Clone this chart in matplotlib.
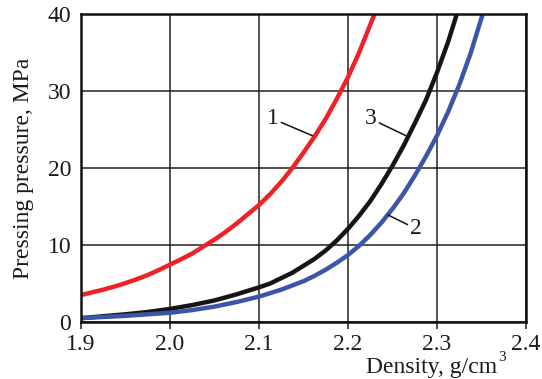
import matplotlib
matplotlib.use("Agg")
import matplotlib.pyplot as plt

plt.rcParams['font.family'] = ['Liberation Serif', 'DejaVu Serif']

# Curve 1: density, g/cm3, and pressing pressure, MPa
density_1 = [1.90, 1.9125, 1.925, 1.9375, 1.95, 1.9625, 1.975, 1.9875, 2.00, 2.0125,
             2.025, 2.0375, 2.05, 2.0625, 2.075, 2.0875, 2.10, 2.1125, 2.125, 2.1375,
             2.15, 2.1625, 2.175, 2.1875, 2.20, 2.2125, 2.225, 2.235]
pressure_1 = [3.5, 3.85, 4.2, 4.6, 5.05, 5.55, 6.1, 6.75, 7.45, 8.15,
              8.9, 9.8, 10.7, 11.7, 12.8, 14.0, 15.2, 16.6, 18.2, 20.0,
              22.0, 24.1, 26.4, 29.0, 31.8, 35.0, 38.6, 41.5]

# Curve 2
density_2 = [1.90, 1.925, 1.95, 1.975, 2.00, 2.025, 2.05, 2.075, 2.10, 2.125,
             2.15, 2.1625, 2.175, 2.1875, 2.20, 2.2125, 2.225, 2.2375, 2.25, 2.2625,
             2.275, 2.2875, 2.30, 2.3125, 2.325, 2.3375, 2.35, 2.36]
pressure_2 = [0.5, 0.65, 0.8, 1.0, 1.2, 1.55, 2.0, 2.6, 3.3, 4.2,
              5.3, 6.0, 6.8, 7.7, 8.7, 9.9, 11.3, 12.9, 14.7, 16.7,
              19.0, 21.5, 24.2, 27.3, 30.8, 34.8, 39.5, 43.0]

# Curve 3
density_3 = [1.90, 1.925, 1.95, 1.975, 2.00, 2.025, 2.05, 2.075, 2.10, 2.1125,
             2.125, 2.1375, 2.15, 2.1625, 2.175, 2.1875, 2.20, 2.2125, 2.225, 2.2375,
             2.25, 2.2625, 2.275, 2.2875, 2.30, 2.3125, 2.325]
pressure_3 = [0.5, 0.75, 1.0, 1.3, 1.7, 2.2, 2.8, 3.6, 4.5, 5.0,
              5.7, 6.4, 7.3, 8.2, 9.3, 10.6, 12.1, 13.8, 15.7, 17.9,
              20.3, 22.9, 25.8, 28.8, 32.4, 36.4, 41.0]

x_ticks = [1.9, 2.0, 2.1, 2.2, 2.3, 2.4]
y_ticks = [0, 10, 20, 30, 40]

fig = plt.figure(figsize=(5.42, 3.79), dpi=100)
ax = fig.add_axes([0.1494, 0.1504, 0.8211, 0.8126])

ax.set_xlim(1.9, 2.4)
ax.set_ylim(0, 40)
ax.set_xticks(x_ticks)
ax.set_yticks(y_ticks)
ax.set_xticklabels([f"{v:.1f}" for v in x_ticks])
ax.set_yticklabels([str(v) for v in y_ticks])
ax.grid(True, color='#222222', linewidth=1.1)
ax.set_axisbelow(True)
for s in ax.spines.values():
    s.set_linewidth(1.8)
    s.set_color('#111111')
ax.tick_params(axis='x', direction='out', length=5, width=1.1, pad=4,
               labelsize=17, colors='#1a1a1a')
ax.tick_params(axis='y', length=0, pad=7, labelsize=17, colors='#1a1a1a')

ax.plot(density_1, pressure_1, color='#ee2226', lw=3.2, solid_capstyle='butt',
        solid_joinstyle='round')
ax.plot(density_3, pressure_3, color='#151515', lw=3.2, solid_capstyle='butt',
        solid_joinstyle='round')
ax.plot(density_2, pressure_2, color='#3b56a6', lw=3.2, solid_capstyle='butt',
        solid_joinstyle='round')

# Curve numbers with leader lines
leader = dict(arrowstyle='-', color='#111111', lw=1.1, shrinkA=0, shrinkB=0)
ax.annotate('1', xy=(2.160, 24.2), xytext=(2.122, 26.4), fontsize=17,
            ha='right', va='center', color='#1a1a1a', arrowprops=leader)
ax.annotate('3', xy=(2.265, 24.2), xytext=(2.232, 26.4), fontsize=17,
            ha='right', va='center', color='#1a1a1a', arrowprops=leader)
ax.annotate('2', xy=(2.245, 13.9), xytext=(2.270, 12.1), fontsize=17,
            ha='left', va='center', color='#1a1a1a', arrowprops=leader)

ax.set_ylabel('Pressing pressure, MPa', fontsize=17, color='#1a1a1a', labelpad=10)
fig.text(432 / 542, 1 - 373 / 379, 'Density, g/cm', fontsize=17, color='#1a1a1a',
         ha='center', va='baseline')
fig.text(498 / 542, 1 - 361 / 379, '3', fontsize=11, color='#1a1a1a',
         ha='left', va='baseline')

fig.savefig('out.png', dpi=100)
